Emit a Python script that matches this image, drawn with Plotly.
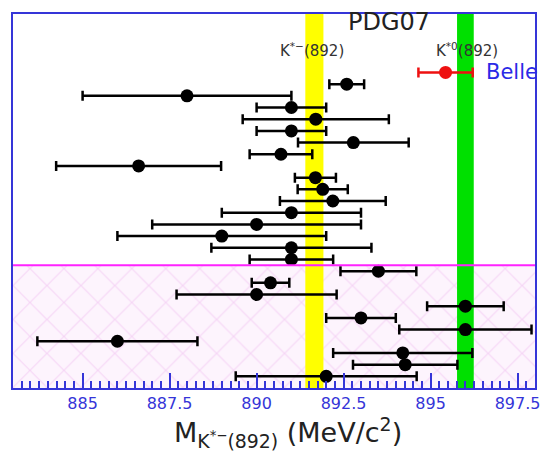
import plotly.graph_objects as go

# ---- data ----
row_index = list(range(26, 0, -1))
mass = [892.59, 888.0, 891.0, 891.7, 891.0, 892.78, 890.7, 886.61, 891.69, 891.9,
        892.19, 891.0, 890.0, 889.0, 891.0, 891.0, 893.5, 890.4, 890.0, 896.0,
        893.0, 896.0, 886.0, 894.2, 894.27, 892.0]
mass_err = [0.5, 3.0, 1.0, 2.1, 1.0, 1.59, 0.9, 2.37, 0.59, 0.72,
            1.52, 2.0, 3.0, 3.0, 2.3, 1.2, 1.09, 0.54, 2.3, 1.1,
            1.0, 1.9, 2.3, 2.0, 1.5, 2.6]

belle_row = [27]
belle_mass = [895.43]
belle_err = [0.78]

pdg_kminus = 891.66
pdg_kminus_err = 0.26
pdg_k0 = 896.00
pdg_k0_err = 0.24

hatch_top = 10.5
x_range = [883, 898]
y_range = [0, 32]

tick_vals = [885, 887.5, 890, 892.5, 895, 897.5]
tick_text = ["885", "887.5", "890", "892.5", "895", "897.5"]
minor_step = 0.25

BLUE = "#3535d8"

fig = go.Figure()

# hatched region
fig.add_trace(go.Scatter(
    x=[x_range[0], x_range[1], x_range[1], x_range[0], x_range[0]],
    y=[y_range[0], y_range[0], hatch_top, hatch_top, y_range[0]],
    fill="toself", mode="none",
    fillcolor="#fdf2fd",
    fillpattern=dict(shape="x", fgcolor="#efb8ef", bgcolor="#fdf4fd", size=24, solidity=0.1),
    hoverinfo="skip", showlegend=False))

# PDG bands
for c, e, col in [(pdg_kminus, pdg_kminus_err, "#ffff00"), (pdg_k0, pdg_k0_err, "#00e000")]:
    fig.add_trace(go.Scatter(
        x=[c - e, c + e, c + e, c - e, c - e],
        y=[y_range[0], y_range[0], y_range[1], y_range[1], y_range[0]],
        fill="toself", mode="none", fillcolor=col,
        hoverinfo="skip", showlegend=False))

# magenta separator
fig.add_shape(type="line", xref="paper", x0=0, x1=1, yref="y", y0=hatch_top, y1=hatch_top,
              line=dict(color="#ff22ff", width=2))

# measurements
fig.add_trace(go.Scatter(
    x=mass, y=row_index, mode="markers",
    marker=dict(color="black", size=13),
    error_x=dict(type="data", array=mass_err, color="black", thickness=2.5, width=5),
    showlegend=False))

fig.add_trace(go.Scatter(
    x=belle_mass, y=belle_row, mode="markers",
    marker=dict(color="#ee1111", size=13),
    error_x=dict(type="data", array=belle_err, color="#ee1111", thickness=2.5, width=5),
    showlegend=False))

# invisible trace to activate the minor-tick overlay axis
fig.add_trace(go.Scatter(x=x_range, y=y_range, xaxis="x2", mode="none",
                         hoverinfo="skip", showlegend=False))

# labels
fig.add_annotation(x=893.8, y=31.35, text="PDG07", showarrow=False,
                   font=dict(family="DejaVu Sans", size=24, color="#222222"))
fig.add_annotation(x=891.59, y=28.95, text="K<sup>*−</sup>(892)", showarrow=False,
                   font=dict(family="DejaVu Sans", size=15, color="#333333"))
fig.add_annotation(x=896.06, y=28.95, text="K<sup>*0</sup>(892)", showarrow=False,
                   font=dict(family="DejaVu Sans", size=15, color="#333333"))
fig.add_annotation(x=896.54, y=27, text="Belle", showarrow=False, xanchor="left",
                   font=dict(family="DejaVu Sans", size=21, color="#2a2ae6"))
fig.add_annotation(xref="paper", yref="paper", x=0.526, y=-0.12, yanchor="middle",
                   text="M<sub>K<sup>*−</sup>(892)</sub> (MeV/c<sup>2</sup>)", showarrow=False,
                   font=dict(family="DejaVu Sans", size=27, color="#222222"))

fig.update_layout(
    xaxis=dict(range=x_range, showgrid=False, zeroline=False,
               showline=True, linecolor=BLUE, linewidth=2, mirror=True,
               ticks="inside", ticklen=15, tickwidth=2, tickcolor=BLUE,
               tickmode="array", tickvals=tick_vals, ticktext=tick_text,
               tickfont=dict(family="DejaVu Sans", size=16, color=BLUE)),
    xaxis2=dict(range=x_range, overlaying="x", side="bottom", anchor="y",
                showgrid=False, zeroline=False, showline=False, showticklabels=False,
                tickmode="linear", tick0=x_range[0], dtick=minor_step,
                ticks="inside", ticklen=7, tickwidth=1.5, tickcolor=BLUE),
    yaxis=dict(range=y_range, showgrid=False, zeroline=False, showticklabels=False,
               showline=True, linecolor=BLUE, linewidth=2, mirror=True, ticks=""),
    width=552, height=456, margin=dict(l=13, r=12, t=12, b=68),
    plot_bgcolor="white", paper_bgcolor="white")

fig.write_html("out.html")
